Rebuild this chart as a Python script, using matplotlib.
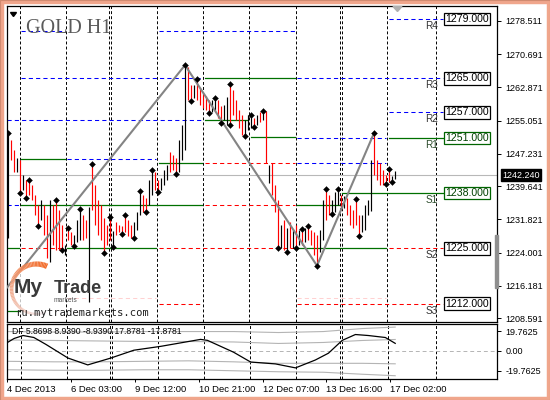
import matplotlib
matplotlib.use('Agg')
import matplotlib.pyplot as plt
import numpy as np
from matplotlib.patches import Rectangle, Polygon, Circle

# ---------------- data ----------------
highs = [1252.1, 1250.5, 1248.1, 1246.2, 1245.8, 1242.2, 1241.1, 1241.1, 1239.9, 1237.5,
         1235.2, 1236.4, 1235.2, 1232.8, 1236.4, 1235.2, 1236.4, 1234.0, 1230.5, 1225.8,
         1229.8, 1228.8, 1228.1, 1231.7, 1234.3, 1232.8, 1231.7, 1234.7, 1244.8, 1239.9,
         1236.4, 1235.2, 1232.2, 1230.5, 1232.4, 1229.1, 1231.2, 1230.5, 1230.3, 1232.8,
         1231.7, 1230.5, 1231.2, 1233.5, 1238.5, 1237.5, 1236.8, 1241.1, 1243.4, 1243.0,
         1241.1, 1241.5, 1243.4, 1244.6, 1247.7, 1247.0, 1246.2, 1250.5, 1254.0, 1268.1,
         1267.6, 1263.4, 1263.4, 1264.8, 1262.7, 1261.5, 1260.8, 1259.9, 1259.9, 1260.4,
         1259.9, 1258.5, 1258.7, 1260.6, 1263.6, 1262.2, 1259.9, 1257.5, 1256.4, 1255.2,
         1256.4, 1256.4, 1255.6, 1256.4, 1257.1, 1257.3, 1257.3, 1244.6, 1245.1, 1239.9,
         1236.4, 1230.5, 1231.7, 1229.8, 1231.2, 1229.3, 1230.5, 1229.3, 1229.5, 1229.8,
         1230.3, 1229.3, 1228.8, 1228.1, 1229.3, 1236.4, 1238.9, 1237.5, 1236.4, 1238.3,
         1238.9, 1237.5, 1237.3, 1236.8, 1235.2, 1234.0, 1236.6, 1232.8, 1232.8, 1235.2,
         1236.4, 1245.8, 1252.1, 1245.8, 1245.1, 1243.4, 1242.2, 1243.7, 1242.0, 1243.3]
lows = [1227.4, 1245.8, 1243.0, 1243.0, 1238.0, 1238.7, 1236.8, 1237.5, 1236.4, 1232.8,
        1230.3, 1231.7, 1228.1, 1222.7, 1221.8, 1225.8, 1224.6, 1224.6, 1224.6, 1223.5,
        1227.0, 1225.8, 1225.6, 1226.5, 1227.0, 1227.0, 1227.4, 1212.4, 1234.0, 1230.5,
        1228.1, 1227.0, 1224.0, 1225.8, 1227.0, 1225.4, 1228.1, 1228.8, 1228.4, 1228.8,
        1227.9, 1227.4, 1227.4, 1229.3, 1232.8, 1233.5, 1233.5, 1235.2, 1237.5, 1238.7,
        1238.3, 1238.7, 1239.9, 1241.1, 1243.0, 1243.4, 1242.5, 1243.0, 1245.8, 1248.1,
        1259.9, 1259.7, 1260.4, 1259.9, 1258.7, 1258.0, 1257.5, 1256.8, 1257.1, 1257.5,
        1255.7, 1254.5, 1255.2, 1254.0, 1254.0, 1256.4, 1255.2, 1253.3, 1251.7, 1251.4,
        1252.8, 1253.3, 1253.6, 1254.0, 1254.7, 1255.2, 1245.1, 1240.4, 1237.5, 1233.5,
        1225.1, 1225.1, 1224.6, 1224.1, 1225.1, 1225.1, 1225.0, 1225.8, 1225.8, 1226.5,
        1227.0, 1225.8, 1223.5, 1220.9, 1224.1, 1227.0, 1231.7, 1232.8, 1233.1, 1233.5,
        1235.2, 1234.0, 1234.5, 1232.8, 1230.5, 1229.8, 1230.5, 1227.9, 1228.8, 1229.3,
        1232.8, 1233.8, 1242.2, 1241.1, 1239.9, 1239.9, 1240.1, 1240.6, 1240.6, 1241.3]
bull = [1, 0, 0, 1, 0, 1, 0, 0, 0, 0, 0, 1, 0, 0, 1, 0, 0, 0, 0, 1,
        0, 0, 1, 1, 1, 0, 0, 1, 0, 0, 0, 0, 0, 0, 0, 1, 0, 0, 0, 0,
        0, 0, 1, 1, 1, 0, 0, 1, 1, 0, 0, 1, 1, 1, 0, 0, 0, 1, 1, 1,
        0, 0, 1, 0, 0, 0, 0, 0, 1, 1, 0, 0, 1, 1, 0, 0, 0, 0, 0, 1,
        1, 1, 0, 1, 0, 1, 0, 1, 0, 0, 0, 1, 0, 1, 0, 1, 0, 1, 0, 1,
        0, 0, 0, 0, 1, 1, 0, 0, 1, 1, 1, 0, 1, 0, 0, 0, 0, 0, 1, 1,
        1, 1, 0, 0, 0, 0, 0, 0, 1, 1]

fractal_up = [0, 7, 16, 20, 24, 28, 34, 39, 44, 48, 59, 63, 69, 74, 81, 85, 98, 100, 106, 110, 116, 122, 127]
fractal_dn = [4, 6, 10, 18, 22, 32, 35, 38, 42, 46, 50, 56, 61, 67, 71, 74, 79, 82, 90, 93, 96, 103, 108, 117, 126, 128]

zz_start_x, zz_start_y = -2, 1214.3
zz_bars = [59, 103, 122]

current_price = 1242.24

# day separators (bar positions) and pivot level segments
day_sep = [4.0, 19.23, 33.77, 34.33, 49.77, 65.1, 80.43, 95.9, 110.67, 111.23, 126.43, 142.67]
col_bounds = [-0.33, 3.9, 19.2, 34.0, 49.8, 65.1, 80.4, 95.9, 110.7, 126.4, 145.3]
seg_price = [1279.0, 1276.1, 1276.1, 1265.0, 1265.0, 1265.0, 1257.0, 1255.1, 1255.1, 1251.2,
             1251.0, 1251.0, 1246.0, 1246.0, 1245.1, 1245.1, 1245.1, 1238.0, 1235.2, 1235.2,
             1235.2, 1235.2, 1225.0, 1225.0, 1225.0, 1225.0, 1225.0, 1225.0, 1213.4, 1213.4,
             1212.0, 1212.0, 1210.3]
seg_from = [9, 1, 4, 1, 5, 7, 9, 0, 5, 6, 7, 9, 1, 2, 4, 5, 7, 8, 0, 1, 5, 7, 0, 1, 2, 4, 7, 9, 2, 7, 4, 7, 0]
seg_to = [9, 1, 6, 4, 6, 9, 9, 4, 5, 6, 8, 9, 1, 3, 4, 6, 8, 9, 0, 4, 6, 7, 0, 1, 3, 6, 8, 9, 3, 8, 4, 9, 0]
seg_kind = ['R', 'R', 'R', 'R', 'P', 'R', 'R', 'R', 'P', 'P', 'R', 'P', 'P', 'R', 'P', 'S', 'R', 'P', 'R', 'P',
            'S', 'P', 'P', 'S', 'P', 'S', 'P', 'S', 'F', 'F', 'S', 'S', 'P']

level_values = [1279.0, 1265.0, 1257.0, 1251.0, 1238.0, 1225.0, 1212.0]
level_names = ['R4', 'R3', 'R2', 'R1', 'S1', 'S2', 'S3']
level_labels = ['1279.000', '1265.000', '1257.000', '1251.000', '1238.000', '1225.000', '1212.000']

price_ticks = [1278.511, 1270.691, 1262.871, 1255.051, 1247.231, 1239.641, 1231.821, 1224.001, 1216.181, 1208.591]
price_tick_labels = ['1278.511', '1270.691', '1262.871', '1255.051', '1247.231', '1239.641',
                     '1231.821', '1224.001', '1216.181', '1208.591']

time_pos = [-0.67, 20.67, 42.0, 63.33, 85.0, 106.0, 127.33]
time_labels = ['4 Dec 2013', '6 Dec 03:00', '9 Dec 12:00', '10 Dec 21:00', '12 Dec 07:00', '13 Dec 16:00', '17 Dec 02:00']

df_x = [-0.3, 1.7, 4.7, 8.3, 12.3, 19.7, 26.3, 34, 41.7, 50.7, 58.3, 64, 66.3, 75, 80.7, 89, 95.7,
        102.3, 106.7, 111.3, 115.7, 120, 125.7, 129]
df_y = [8.9, 12.5, 15.5, 13.5, 6.6, -7.2, -14.1, -7.2, 0.7, 4.6, 8.6, 11.6, 10.6, -1.3, -11.2, -13.1,
        -17.1, -9.2, -2.3, 10.6, 16.5, 15.5, 13.5, 7.6]
band_x = [-0.3, 15, 30, 45, 60, 75, 90, 105, 118, 129]
band_up_outer = [19.5, 19.0, 19.0, 19.5, 19.5, 19.5, 18.5, 19.5, 22.5, 24.0]
band_up_inner = [11.0, 10.5, 10.0, 9.5, 9.5, 9.0, 7.5, 8.5, 10.5, 11.5]
band_lo_inner = [-10.5, -11.0, -11.0, -10.5, -10.0, -11.0, -12.5, -12.5, -12.5, -13.0]
band_lo_outer = [-19.0, -19.5, -19.5, -19.0, -19.0, -20.0, -21.0, -21.5, -23.5, -25.0]
df_ticks = [19.7625, 0.0, -19.7625]
df_tick_labels = ['19.7625', '0.00', '-19.7625']
df_title = 'DF 5.8698 8.9390 -8.9390 17.8781 -17.8781'

# ---------------- figure ----------------
W, H = 550, 400
plt.rcParams['font.family'] = ['Liberation Sans', 'DejaVu Sans']
fig = plt.figure(figsize=(W / 100, H / 100), dpi=100)
fig.patch.set_facecolor('white')

XMIN, XMAX = -0.333, 163.0
ax = fig.add_axes([7 / W, 1 - 322 / H, 490 / W, 316 / H])
axi = fig.add_axes([7 / W, 1 - 379 / H, 490 / W, 55.5 / H])

for a in (ax, axi):
    a.set_xlim(XMIN, XMAX)
    for s in a.spines.values():
        s.set_linewidth(0.9)
        s.set_color('black')
    for sx in day_sep:
        a.axvline(sx, color='black', lw=0.7, ls=(0, (3, 2.2)), zorder=1)

ax.set_ylim(1207.66, 1282.01)

# pivot segments
kstyle = {'R': dict(color='#0000ff', ls=(0, (4, 3)), lw=0.75, alpha=1),
          'S': dict(color='#ff0000', ls=(0, (4, 3)), lw=0.75, alpha=1),
          'P': dict(color='#007000', ls='-', lw=0.9, alpha=1),
          'F': dict(color='#ff9a9a', ls=(0, (4, 3)), lw=0.75, alpha=0.45)}
for p, c0, c1, k in zip(seg_price, seg_from, seg_to, seg_kind):
    x0 = col_bounds[c0] + (0.5 if c0 > 0 else 0)
    x1 = col_bounds[c1 + 1] - 0.3
    ax.plot([x0, x1], [p, p], zorder=2, **kstyle[k])

ax.axhline(current_price, color='#b8b8b8', lw=0.8, zorder=2)

idx = np.arange(len(highs))
cols = ['black' if b else '#ff0000' for b in bull]
ax.vlines(idx, lows, highs, colors=cols, lw=0.85, zorder=3)

zz_x = [zz_start_x] + zz_bars
zz_y = [zz_start_y, highs[zz_bars[0]], lows[zz_bars[1]], highs[zz_bars[2]]]
ax.plot(zz_x, zz_y, color='#848484', lw=1.5, zorder=4, solid_capstyle='round')

ax.plot(fractal_up, [highs[i] for i in fractal_up], 'D', ms=3.0, color='black',
        mec='black', mew=0.3, zorder=5, ls='none')
ax.plot(fractal_dn, [lows[i] for i in fractal_dn], 'D', ms=3.0, color='black',
        mec='black', mew=0.3, zorder=5, ls='none')

# level labels
for v, n, lab in zip(level_values, level_names, level_labels):
    green = n in ('R1', 'S1')
    ec = '#006400' if green else 'black'
    tc = '#004000' if green else 'black'
    ax.plot([col_bounds[-1], 147.5], [v, v], color=ec, lw=0.8, zorder=2)
    ax.text(153.0, v, lab, ha='center', va='center', fontsize=7.6, color=tc, zorder=6,
            bbox=dict(boxstyle='square,pad=0.12', fc='white', ec=ec, lw=0.9))
    ax.annotate(n, (143.3, v), xytext=(0, -1.5), textcoords='offset points', ha='right', va='top',
                fontsize=7.2, color='#2a4a2a' if green else '#333333', zorder=6)

ax.yaxis.tick_right()
ax.set_yticks(price_ticks)
ax.set_yticklabels(price_tick_labels)
ax.tick_params(axis='y', labelsize=6.5, length=3, width=0.7, pad=3)
ax.set_xticks([])

ax.annotate('1242.240', (1.0, current_price), xycoords=('axes fraction', 'data'),
            xytext=(3.5, 0), textcoords='offset points', ha='left', va='center',
            fontsize=6.5, color='white', zorder=7,
            bbox=dict(boxstyle='square,pad=0.15', fc='black', ec='black'))

# indicator
axi.set_ylim(-28.3, 27.6)
for bl in (band_up_outer, band_up_inner, band_lo_inner, band_lo_outer):
    axi.plot(band_x, bl, color='#b4b4b4', lw=0.8, zorder=2)
axi.axhline(0, color='#b4b4b4', lw=0.7, ls=(0, (4, 3)), zorder=2)
axi.plot(df_x, df_y, color='black', lw=0.9, zorder=3)
axi.text(5 / 490, 0.86, df_title, transform=axi.transAxes, fontsize=6.2, ha='left', va='center', zorder=4)
axi.yaxis.tick_right()
axi.set_yticks(df_ticks)
axi.set_yticklabels(df_tick_labels)
axi.tick_params(axis='y', labelsize=6.5, length=3, width=0.7, pad=3)
axi.set_xticks(time_pos)
axi.set_xticklabels(time_labels, ha='left')
axi.tick_params(axis='x', labelsize=6.8, length=2.5, width=0.7, pad=2)

# ---------------- decorations (pixel overlay) ----------------
axo = fig.add_axes([0, 0, 1, 1], zorder=10)
axo.set_xlim(0, W)
axo.set_ylim(H, 0)
axo.axis('off')
axo.patch.set_alpha(0)

axo.text(26, 33, 'GOLD H1', fontsize=14.5, family='Liberation Serif', color='#5a5a5a', va='baseline', ha='left')
axo.add_patch(Polygon([[10.5, 12.5], [16.5, 12.5], [13.5, 16.5]], closed=True, color='black'))
axo.add_patch(Polygon([[393, 6.5], [402, 6.5], [397.5, 11.5]], closed=True, color='#b0b0b0'))
axo.add_patch(Rectangle((494.6, 235), 3.6, 53, color='#8e8e8e'))

# logo
cx, cy, r = 36.5, 289.0, 25.0
axo.add_patch(Circle((cx, cy), r - 1, color='white', alpha=0.75, lw=0))
th = np.linspace(np.deg2rad(65), np.deg2rad(290), 70)
for k in range(len(th) - 1):
    f = k / (len(th) - 1)
    col = (0.95, 0.42 + 0.5 * f, 0.16 + 0.78 * f)
    axo.plot(cx + r * np.cos(th[k:k + 2]), cy - r * np.sin(th[k:k + 2]), color=col,
             lw=4.0 - 2.6 * f, solid_capstyle='butt')
axo.text(13.5, 293, 'My', fontsize=15, weight='bold', color='#3a3a3a', va='baseline', ha='left')
axo.text(54, 293, 'Trade', fontsize=13, weight='bold', color='#3a3a3a', va='baseline', ha='left')
axo.text(54, 301.5, 'markets', fontsize=4.8, color='#555555', va='baseline', ha='left')
axo.text(15, 316.5, 'ru.mytrademarkets.com', fontsize=7.6, family='DejaVu Sans Mono', color='#1e1e1e',
         va='baseline', ha='left')

# outer frame
axo.add_patch(Rectangle((1.5, 1.5), W - 3, H - 3, fill=False, ec='#f0a68c', lw=3.2))
axo.add_patch(Rectangle((0.3, 0.3), W - 0.6, H - 0.6, fill=False, ec='#d08a70', lw=0.8))

fig.savefig('out.png', dpi=100, facecolor='white')
